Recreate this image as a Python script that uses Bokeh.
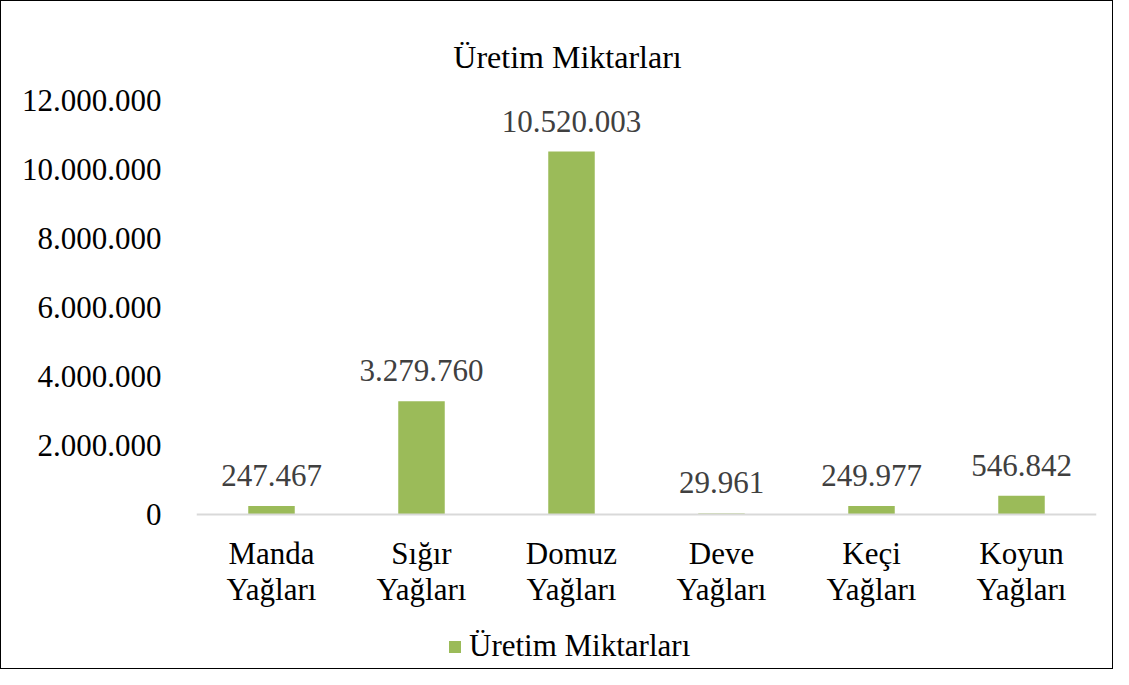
from bokeh.plotting import figure
from bokeh.models import (ColumnDataSource, LabelSet, Label, FixedTicker, Legend,
                          LegendItem, Span)
from bokeh.core.properties import value
from bokeh.embed import file_html
from bokeh.resources import INLINE

categories = ["Manda Yağları", "Sığır Yağları", "Domuz Yağları",
              "Deve Yağları", "Keçi Yağları", "Koyun Yağları"]
values = [247467, 3279760, 10520003, 29961, 249977, 546842]
y_ticks = [0, 2000000, 4000000, 6000000, 8000000, 10000000, 12000000]
y_tick_labels = ["0", "2.000.000", "4.000.000", "6.000.000",
                 "8.000.000", "10.000.000", "12.000.000"]
series_name = "Üretim Miktarları"
title_text = "Üretim Miktarları"

FONT = "Liberation Serif"
GREEN = "#9BBB59"
FS = "31px"

# layout (pixels)
W, H = 1113, 669
LEFT, RIGHT = 195, 18
TOP_PX = 99            # pixel row of 12.000.000
ZERO_PX = 513          # pixel row of 0
TITLE_BASE_PX = 55     # baseline of the title
TITLE_CX_PX = 566      # horizontal centre of the title
Y_MAX = 12000000

scale = (ZERO_PX - TOP_PX) / Y_MAX
y_start = -(H - ZERO_PX) / scale
y_end = Y_MAX + TOP_PX / scale
band = (W - LEFT - RIGHT) / len(categories)

labels = [f"{v:,}".replace(",", ".") for v in values]
first = [c.split(" ", 1)[0] for c in categories]
second = [c.split(" ", 1)[1] for c in categories]
src = ColumnDataSource(dict(cat=categories, val=values, lab=labels,
                            first=first, second=second, zero=[0] * len(categories)))

p = figure(x_range=categories, y_range=(y_start, y_end), width=W, height=H,
           title=None, output_backend="svg", toolbar_location=None,
           min_border_left=LEFT, min_border_right=RIGHT,
           min_border_top=0, min_border_bottom=0)
p.styles = {"border": "1.5px solid black", "box-sizing": "border-box"}
p.outline_line_color = None
p.background_fill_color = "white"
p.border_fill_color = "white"

r = p.vbar(x="cat", top="val", width=0.31, source=src, fill_color=GREEN, line_color=None)

p.add_layout(Span(location=0, dimension="width", line_color="#D9D9D9", line_width=2))

p.xgrid.visible = False
p.ygrid.visible = False
p.xaxis.visible = False

p.yaxis.ticker = FixedTicker(ticks=y_ticks)
p.yaxis.major_label_overrides = {t: l for t, l in zip(y_ticks, y_tick_labels)}
p.yaxis.axis_line_color = None
p.yaxis.major_tick_line_color = None
p.yaxis.minor_tick_line_color = None
p.yaxis.major_label_text_font = FONT
p.yaxis.major_label_text_font_size = FS
p.yaxis.major_label_text_color = "#000000"
p.yaxis.major_label_standoff = 29

# chart title
p.add_layout(Label(x=(TITLE_CX_PX - LEFT) / band,
                   y=Y_MAX + (TOP_PX - TITLE_BASE_PX) / scale,
                   text=title_text, text_align="center", text_baseline="alphabetic",
                   text_font=FONT, text_font_size="32px", text_color="#000000"))

# category labels (two lines) under the baseline
p.text(x="cat", y="zero", text="first", source=src, y_offset=39,
       text_align="center", text_baseline="middle", text_font=value(FONT),
       text_font_size=FS, text_color="#000000")
p.text(x="cat", y="zero", text="second", source=src, y_offset=75,
       text_align="center", text_baseline="middle", text_font=value(FONT),
       text_font_size=FS, text_color="#000000")

lbl = LabelSet(x="cat", y="val", text="lab", source=src, text_align="center",
               text_baseline="alphabetic", y_offset=20, text_font=FONT,
               text_font_size=FS, text_color="#404040")
p.add_layout(lbl)

legend = Legend(items=[LegendItem(label=series_name, renderers=[r])],
                location=(251, 6), padding=0, margin=0, spacing=0,
                glyph_width=15, glyph_height=15, label_standoff=7,
                label_text_font=FONT, label_text_font_size=FS,
                label_text_color="#000000", border_line_color=None,
                background_fill_alpha=0)
p.add_layout(legend)

open("out.html", "w").write(file_html(p, INLINE))
